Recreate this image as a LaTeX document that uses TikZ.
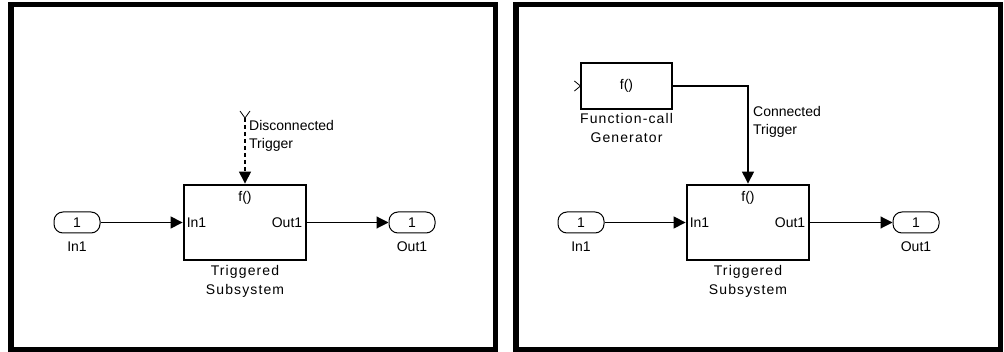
\documentclass[tikz,border=0pt]{standalone}
\usepackage{fontspec}
\setmainfont{Liberation Sans}
\usetikzlibrary{arrows.meta}
\tikzset{
  panel/.style={draw=black, line width=5.5pt},
  port/.style={draw=black, line width=1pt, rounded corners=9pt, minimum width=46pt, minimum height=21pt, inner sep=0pt, font=\fontsize{14}{18}\selectfont},
  subsys/.style={draw=black, line width=2.8pt, minimum width=122pt, minimum height=75pt, inner sep=0pt},
  fcgbox/.style={draw=black, line width=1.1pt, minimum width=91pt, minimum height=46pt, inner sep=0pt, font=\fontsize{14}{18}\selectfont},
  sig/.style={draw=black, line width=1.1pt, -{Triangle[length=12pt,width=12pt]}},
  txt/.style={inner sep=0pt, font=\fontsize{14}{18}\selectfont},
  blabel/.style={inner sep=0pt, align=center, font=\fontsize{14}{19}\selectfont\addfontfeatures{LetterSpace=8}},
}
\begin{document}
\begin{tikzpicture}[x=1pt,y=-1pt]
\useasboundingbox (0,0) rectangle (1004,352);
% panels
\draw[panel] (10.75,4.75) rectangle (495.25,350);
\draw[panel] (516,4.75) rectangle (1000.25,350);

% ---------- left panel ----------
\node[port] (in1L) at (77,222.5) {1};
\node[txt] (in1Llab) at (77,247) {In1};
\node[subsys] (subL) at (245,222.5) {};
\node[txt] (fL) at (245,198) {f()};
\node[txt, anchor=west] (inL) at ([xshift=4pt]subL.west) {In1};
\node[txt, anchor=east] (outLi) at ([xshift=-5pt]subL.east) {Out1};
\node[blabel, anchor=north] (subLlab) at (245,265) {Triggered\\Subsystem};
\node[port] (outL) at (412,222.5) {1};
\node[txt] (outLlab) at (412,247) {Out1};
\draw[sig] (in1L.east) -- (subL.west);
\draw[sig] (subL.east) -- (outL.west);
% disconnected trigger
\coordinate (yL) at (245,118);
\draw[line width=0.8pt] (240,111) -- (yL) -- (250,111);
\draw[sig, dash pattern=on 4pt off 3pt] (yL) -- (subL.north);
\node[txt, anchor=west, align=left] (discLab) at (249,136) {Disconnected\\Trigger};

% ---------- right panel ----------
\node[fcgbox] (fcg) at (626.5,86) {f()};
\draw[line width=0.8pt] ([xshift=-6pt,yshift=-5pt]fcg.west) -- (fcg.west) -- ([xshift=-6pt,yshift=5pt]fcg.west);
\node[blabel, anchor=north] (fcglab) at (626.5,113) {Function-call\\Generator};
\node[port] (in1R) at (581,222.5) {1};
\node[txt] (in1Rlab) at (581,247) {In1};
\node[subsys] (subR) at (748,222.5) {};
\node[txt] (fR) at (748,198) {f()};
\node[txt, anchor=west] (inR) at ([xshift=4pt]subR.west) {In1};
\node[txt, anchor=east] (outRi) at ([xshift=-5pt]subR.east) {Out1};
\node[blabel, anchor=north] (subRlab) at (748,265) {Triggered\\Subsystem};
\node[port] (outR) at (916,222.5) {1};
\node[txt] (outRlab) at (916,247) {Out1};
\draw[sig] (in1R.east) -- (subR.west);
\draw[sig] (subR.east) -- (outR.west);
\draw[sig] (fcg.east) -| (subR.north);
\node[txt, anchor=west, align=left] (conLab) at (753,122) {Connected\\Trigger};
\end{tikzpicture}
\end{document}
